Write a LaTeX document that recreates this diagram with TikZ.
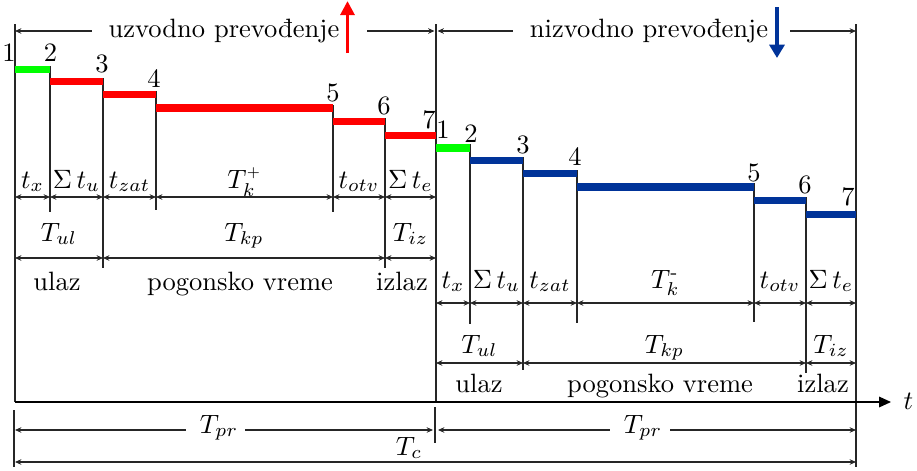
\documentclass[tikz,border=0pt]{standalone}
\usepackage{amsmath}
\usetikzlibrary{arrows.meta}
\definecolor{grn}{RGB}{0,255,0}
\definecolor{rd}{RGB}{255,0,0}
\definecolor{bl}{RGB}{0,51,153}
\begin{document}
\begin{tikzpicture}[x=0.377pt,y=-0.377pt,
  thinline/.style={draw=black!85,line width=0.4pt},
  dimtip/.tip={Stealth[length=2.4pt,width=2.1pt]},
  dim/.style={thinline,dimtip-dimtip},
  dimr/.style={thinline,-dimtip},
  diml/.style={thinline,dimtip-},
  bar/.style={line width=2.7pt},
  lbl/.style={inner sep=0pt,anchor=base},
  num/.style={inner sep=0pt}]
\useasboundingbox (0,0) rectangle (917,470);

% ---------- coordinates of step points ----------
\coordinate (L1) at (15,69.5);  \coordinate (L2) at (50,69.5);
\coordinate (L2b) at (50,81.5); \coordinate (L3) at (103,81.5);
\coordinate (L3b) at (103,94.5); \coordinate (L4) at (156,94.5);
\coordinate (L4b) at (156,108); \coordinate (L5) at (333,108);
\coordinate (L5b) at (333,121.5); \coordinate (L6) at (385,121.5);
\coordinate (L6b) at (385,135.5); \coordinate (L7) at (436,135.5);
\coordinate (R1) at (436,148);  \coordinate (R2) at (470,148);
\coordinate (R2b) at (470,160.5); \coordinate (R3) at (523,160.5);
\coordinate (R3b) at (523,173.5); \coordinate (R4) at (577,173.5);
\coordinate (R4b) at (577,187); \coordinate (R5) at (754,187);
\coordinate (R5b) at (754,200.5); \coordinate (R6) at (806,200.5);
\coordinate (R6b) at (806,214.5); \coordinate (R7) at (856,214.5);

% ---------- vertical lines ----------
\draw[thinline] (15,24) -- (15,402);
\draw[thinline] (50,66) -- (50,212);
\draw[thinline] (103,78) -- (103,268);
\draw[thinline] (156,91) -- (156,210);
\draw[thinline] (333,105) -- (333,212);
\draw[thinline] (385,118) -- (385,268);
\draw[thinline] (436,24) -- (436,402);
\draw[thinline] (470,144) -- (470,324);
\draw[thinline] (523,157) -- (523,370);
\draw[thinline] (577,170) -- (577,323);
\draw[thinline] (754,183) -- (754,322);
\draw[thinline] (806,197) -- (806,373);
\draw[thinline] (856,24) -- (856,467);
\draw[thinline] (14,410) -- (14,467);
\draw[thinline] (435,407) -- (435,443);

% ---------- bars ----------
\draw[bar,grn] (L1) -- (L2);
\draw[bar,rd] (L2b) -- (L3);
\draw[bar,rd] (L3b) -- (L4);
\draw[bar,rd] (L4b) -- (L5);
\draw[bar,rd] (L5b) -- (L6);
\draw[bar,rd] (L6b) -- (L7);
\draw[bar,grn] (R1) -- (R2);
\draw[bar,bl] (R2b) -- (R3);
\draw[bar,bl] (R3b) -- (R4);
\draw[bar,bl] (R4b) -- (R5);
\draw[bar,bl] (R5b) -- (R6);
\draw[bar,bl] (R6b) -- (R7);

% ---------- point numbers ----------
\node[num] (nl1) at (9,53) {1};
\node[num] (nl2) at (50.5,52.5) {2};
\node[num] (nl3) at (102,64) {3};
\node[num] (nl4) at (154,79) {4};
\node[num] (nl5) at (333,93) {5};
\node[num] (nl6) at (384,106) {6};
\node[num] (nl7) at (429,120) {7};
\node[num] (nr1) at (443,130) {1};
\node[num] (nr2) at (471,134) {2};
\node[num] (nr3) at (523,145) {3};
\node[num] (nr4) at (575,157) {4};
\node[num] (nr5) at (754,173) {5};
\node[num] (nr6) at (805,185) {6};
\node[num] (nr7) at (848,197) {7};

% ---------- top dimensions ----------
\node[lbl] (up) at (224,37.5) {uzvodno prevođenje};
\node[lbl] (down) at (649,37.5) {nizvodno prevođenje};
\draw[diml] (15,31) -- (92,31);
\draw[dimr] (367,31) -- (434.5,31);
\draw[diml] (437.5,31) -- (513,31);
\draw[dimr] (790,31) -- (856,31);
\draw[rd,line width=1.5pt,-{Triangle[length=5.3pt,width=5.2pt]}] (347.5,53) -- (347.5,1);
\draw[bl,line width=1.5pt,-{Triangle[length=5pt,width=5.6pt]}] (777,7) -- (777,58);

% ---------- left dimension rows ----------
\draw[dim] (15,197) -- (50,197);
\draw[dim] (50,197) -- (103,197);
\draw[dim] (103,197) -- (156,197);
\draw[dim] (156,197) -- (333,197);
\draw[dim] (333,197) -- (385,197);
\draw[dim] (385,197) -- (436,197);
\node[lbl] (a1) at (32.5,188) {$t_x$};
\node[lbl] (a2) at (76.5,188) {$\Sigma\, t_u$};
\node[lbl] (a3) at (129.5,188) {$t_{zat}$};
\node[lbl] (a4) at (244.5,188) {$T_k^{\scriptscriptstyle +}$};
\node[lbl] (a5) at (359,188) {$t_{otv}$};
\node[lbl] (a6) at (410.5,188) {$\Sigma\, t_e$};

\draw[dim] (15,258) -- (103,258);
\draw[dim] (103,258) -- (385,258);
\draw[dim] (385,258) -- (436,258);
\node[lbl] (b1) at (59,241) {$T_{ul}$};
\node[lbl] (b2) at (244,241) {$T_{kp}$};
\node[lbl] (b3) at (410.5,241) {$T_{iz}$};

\node[lbl] (c1) at (57,290) {ulaz};
\node[lbl] (c2) at (240,290) {pogonsko vreme};
\node[lbl] (c3) at (402,290) {izlaz};

% ---------- right dimension rows ----------
\draw[dim] (436,303) -- (470,303);
\draw[dim] (470,303) -- (523,303);
\draw[dim] (523,303) -- (577,303);
\draw[dim] (577,303) -- (754,303);
\draw[dim] (754,303) -- (806,303);
\draw[dim] (806,303) -- (856,303);
\node[lbl] (d1) at (453,288) {$t_x$};
\node[lbl] (d2) at (496.5,288) {$\Sigma\, t_u$};
\node[lbl] (d3) at (550,288) {$t_{zat}$};
\node[lbl] (d4) at (665.5,288) {$T_k^{\text{-}}$};
\node[lbl] (d5) at (780,288) {$t_{otv}$};
\node[lbl] (d6) at (831,288) {$\Sigma\, t_e$};

\draw[dim] (436,363) -- (523,363);
\draw[dim] (523,363) -- (806,363);
\draw[dim] (806,363) -- (856,363);
\node[lbl] (e1) at (479.5,353) {$T_{ul}$};
\node[lbl] (e2) at (664.5,353) {$T_{kp}$};
\node[lbl] (e3) at (831,353) {$T_{iz}$};

\node[lbl] (f1) at (479,392) {ulaz};
\node[lbl] (f2) at (660,392) {pogonsko vreme};
\node[lbl] (f3) at (823,392) {izlaz};

% ---------- time axis ----------
\draw[black,line width=0.5pt,-{Triangle[length=4.5pt,width=4pt]}] (15,402) -- (891,402);
\node[inner sep=0pt,anchor=base west] (t) at (903,409) {$t$};

% ---------- bottom dimensions ----------
\node[lbl] (tpr1) at (219,433) {$T_{pr}$};
\node[lbl] (tpr2) at (643,433) {$T_{pr}$};
\node[lbl] (tc) at (409,455) {$T_c$};
\draw[diml] (15,430) -- (186,430);
\draw[dimr] (245,430) -- (433,430);
\draw[diml] (438,430) -- (610,430);
\draw[dimr] (670,430) -- (856,430);
\draw[dim] (15,462) -- (856,462);
\end{tikzpicture}
\end{document}
